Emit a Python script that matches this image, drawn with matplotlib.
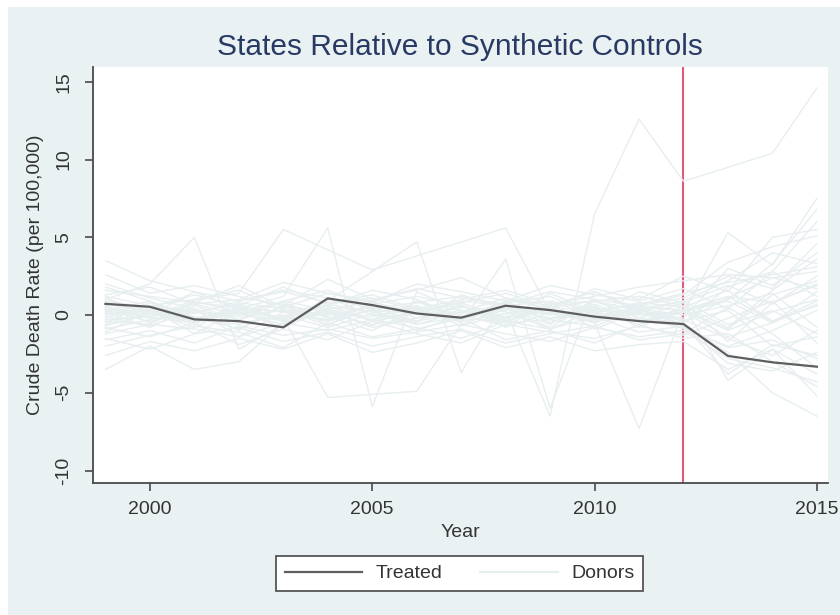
import matplotlib
matplotlib.use("Agg")
import matplotlib.pyplot as plt
from matplotlib.patches import Rectangle
from matplotlib.lines import Line2D

plt.rcParams['font.family'] = ['Liberation Sans', 'DejaVu Sans']

years = list(range(1999, 2016))
treatment_year = 2012

treated = [0.72, 0.53, -0.28, -0.39, -0.79, 1.07, 0.64, 0.10, -0.17, 0.60,
           0.32, -0.10, -0.39, -0.58, -2.63, -3.04, -3.32]

# Donor states: gap between each donor and its synthetic control
d01 = [0.4, 0.1, -0.3, 0.5, 0.2, -0.4, 0.3, 0.1, -0.2, 0.3, -6.5, 6.5, 12.6, 8.6, 9.5, 10.4, 14.6]
d02 = [1.0, 2.0, 5.0, -2.2, -0.6, 0.4, 0.8, 0.2, -0.3, 0.5, 0.1, -0.4, 0.6, 0.3, 1.2, 0.8, 1.9]
d03 = [3.5, 2.2, 1.5, 0.9, 1.6, 1.1, 0.4, 0.8, 1.2, 0.6, 0.9, 0.3, 0.7, 1.4, 2.1, 2.6, 3.1]
d04 = [0.2, 0.6, 1.0, 1.4, 5.5, 4.2, 2.9, 3.8, 4.7, 5.6, 0.2, -0.5, 0.4, 0.9, -0.6, 0.3, -1.2]
d05 = [-3.5, -2.0, -3.5, -3.0, -0.5, 0.3, -0.8, -0.2, 0.6, -0.4, 0.5, 0.2, -0.3, -0.8, -2.1, -1.6, -2.8]
d06 = [1.8, 0.9, -0.5, 0.4, 1.2, 5.6, -5.9, 1.5, 0.3, -0.5, 0.8, 0.1, -0.6, 0.2, -1.4, -0.5, 0.7]
d07 = [0.3, -0.4, 0.2, 0.7, -0.3, 0.9, 2.8, 4.7, -3.7, 1.0, 0.4, -0.2, 0.6, -0.4, 1.1, 2.4, 1.7]
d08 = [-0.6, 0.4, -1.2, 0.3, -0.2, -5.3, -5.1, -4.9, -0.6, 0.4, -0.2, 0.7, -0.4, 0.2, -0.9, 1.3, 2.2]
d09 = [0.2, -0.8, 0.6, -0.3, 0.5, -0.1, -1.0, 0.4, -0.5, 3.6, -6.0, 1.5, 0.4, -0.6, -3.8, -1.9, -2.6]
d10 = [-0.9, -0.3, 0.4, -1.4, 0.2, 0.6, -0.4, 0.1, 0.8, -0.2, 0.5, -0.5, -7.3, 0.3, 1.2, -0.4, 0.9]
d11 = [0.5, 0.1, -0.4, 0.3, 0.8, -0.2, 0.3, -0.6, 0.2, 0.6, -0.3, 0.4, 0.1, 0.2, 5.3, 3.2, 7.5]
d12 = [-0.2, 0.6, 0.3, -0.5, -0.1, 0.7, 0.2, 0.5, -0.7, 0.1, 0.4, -0.2, 0.5, 0.3, 1.0, 3.3, 6.8]
d13 = [0.6, -0.5, 0.9, 0.2, -0.8, 0.4, -0.3, 0.8, 0.3, -0.4, 0.7, 0.9, -0.2, -0.5, 1.8, 2.8, 6.0]
d14 = [-1.1, 0.3, -0.6, 0.8, 0.4, -0.7, 0.9, -0.2, 0.5, 0.2, -0.9, 0.3, 0.6, 1.1, 2.5, 1.7, 4.6]
d15 = [0.3, 0.9, -0.2, 0.1, -0.6, 0.5, 0.2, -0.4, 0.7, -0.8, 0.2, -0.3, 0.4, -0.7, -2.4, -5.0, -6.5]
d16 = [-0.4, -0.6, 0.8, 0.5, 0.2, -0.3, 0.6, 0.3, -0.2, 0.9, -0.5, 0.6, -0.8, 0.6, -4.2, -2.2, -3.8]
d17 = [1.2, 0.6, 0.1, 0.9, 1.5, 0.8, 1.3, 0.4, 1.0, 1.6, 0.7, 1.2, 1.8, 2.2, 2.6, 2.4, 2.8]
d18 = [-1.6, -1.0, -1.8, -0.7, -1.3, -0.9, -1.5, -1.1, -0.6, -1.2, -1.7, -0.8, -1.4, -1.0, -2.8, -3.4, -4.3]
d19 = [1.6, 1.2, 0.8, 1.9, 0.5, 1.4, 0.9, 1.7, 1.1, 0.7, 1.5, 1.0, 0.6, 1.3, 3.4, 4.4, 5.1]
d20 = [-0.8, -1.4, -0.5, -1.9, -0.9, -1.6, -0.4, -1.2, -1.8, -0.6, -1.1, -1.5, -0.7, -1.3, -0.2, 0.9, -1.8]
d21 = [0.1, 0.4, 0.2, -0.1, 0.3, 0.0, 0.5, 0.2, 0.1, 0.4, -0.2, 0.3, 0.0, 0.2, 0.9, -0.5, 1.5]
d22 = [-0.3, -0.1, -0.5, 0.2, -0.4, 0.1, -0.6, -0.2, 0.3, -0.1, 0.2, -0.4, 0.1, -0.3, -1.5, -2.6, -1.0]
d23 = [0.9, 0.5, 1.3, 0.6, 1.8, 0.7, 1.1, 0.3, 0.8, 1.4, 0.5, 0.9, 1.2, 0.6, -0.8, 1.6, 3.6]
d24 = [-1.2, -0.6, -0.9, -1.4, -0.5, -1.0, -0.3, -0.8, -1.5, -0.4, -0.9, -0.1, -1.1, -0.7, -3.1, -3.6, -2.4]
d25 = [2.0, 1.1, 0.4, -0.3, 0.9, 1.6, 0.5, -0.4, 0.2, 1.1, 0.6, 1.5, 0.2, 0.9, 2.2, 4.0, 3.3]
d26 = [-2.0, -1.3, -0.7, -1.1, -2.1, -0.5, -1.4, -0.9, -0.2, -1.6, -1.0, -1.8, -0.6, -1.5, -1.2, -3.0, -4.6]
d27 = [0.5, -0.2, 1.0, 1.6, 0.3, -0.4, 0.7, 1.2, 0.6, -0.3, 1.4, 0.2, 0.8, 0.5, 1.6, -0.4, 0.6]
d28 = [-0.5, 0.8, -0.1, -0.9, 0.6, 0.2, -0.7, 0.9, -0.3, 0.5, -0.6, 1.0, -0.2, 0.8, -1.7, 0.8, 2.0]
d29 = [1.3, 1.8, 0.7, 1.0, 2.1, 1.4, 0.8, 2.0, 1.5, 0.9, 1.9, 1.3, 0.9, 1.7, 0.4, 2.8, 1.2]
d30 = [-1.5, -2.2, -1.2, -0.8, -1.7, -1.1, -2.0, -1.4, -0.9, -1.8, -1.2, -0.7, -1.6, -1.2, 0.5, -1.2, -3.4]
d31 = [0.7, 0.2, -0.8, 0.6, -0.4, 1.1, 0.0, -0.5, 1.3, 0.4, -0.8, 0.9, 0.3, -0.2, 3.0, 1.9, 4.0]
d32 = [-0.1, -0.7, 0.3, -1.0, 0.7, -0.6, 0.4, -1.0, 0.0, -0.7, 0.8, -0.9, 0.2, -0.9, -2.0, -1.0, 0.3]
d33 = [2.6, 1.4, 1.9, 1.2, 0.6, 2.3, 1.0, 1.6, 2.4, 1.1, 0.4, 1.7, 1.0, 2.5, 1.5, 5.0, 5.5]
d34 = [-2.6, -1.7, -2.3, -1.5, -2.2, -1.2, -2.4, -1.8, -1.0, -2.1, -1.4, -2.3, -1.9, -1.7, -3.5, -2.2, -5.2]
d35 = [0.0, 0.3, -0.2, 0.4, -0.3, 0.2, -0.1, 0.6, -0.4, 0.1, 0.3, -0.1, 0.4, 0.0, 0.6, 1.4, -0.8]
d36 = [0.4, -0.1, 0.7, 0.0, 0.9, 0.3, -0.3, 0.2, 0.9, 0.6, 0.0, 0.5, -0.4, 0.4, -1.0, 0.2, 1.0]
d37 = [-0.7, 0.1, -0.3, -0.6, 0.0, -0.8, 0.1, -0.6, -0.1, -0.5, -0.3, -0.7, 0.3, -0.4, 0.3, -2.0, -1.4]
d38 = [1.1, 0.0, 1.5, 0.4, -0.2, 0.6, 1.6, 1.0, -0.1, 0.8, 1.2, 0.0, 1.5, 0.8, 1.9, 0.7, 2.5]

donors = [d01, d02, d03, d04, d05, d06, d07, d08, d09, d10, d11, d12, d13,
          d14, d15, d16, d17, d18, d19, d20, d21, d22, d23, d24, d25, d26,
          d27, d28, d29, d30, d31, d32, d33, d34, d35, d36, d37, d38]

x_ticks = [2000, 2005, 2010, 2015]
y_ticks = [-10, -5, 0, 5, 10, 15]

bg = '#eaf1f3'
donor_color = '#e7eef0'
treated_color = '#5e5e5e'
axis_color = '#4a4a4a'
text_color = '#333333'

fig = plt.figure(figsize=(8.4, 6.15), dpi=100, facecolor='white')
# graph region (leaves a thin white margin at top and left)
fig.patches.append(Rectangle((8 / 840, 0), 1 - 8 / 840, 1 - 7 / 615,
                             transform=fig.transFigure, facecolor=bg,
                             edgecolor='none', zorder=-10))

ax = fig.add_axes([93 / 840, 1 - 483 / 615, (828 - 93) / 840, (483 - 67) / 615])
ax.set_facecolor('white')

ax.axvline(treatment_year, color='#e05a7a', lw=1.5, zorder=1)
for d in donors:
    ax.plot(years, d, color=donor_color, lw=1.0, zorder=2)
ax.plot(years, treated, color=treated_color, lw=1.6, zorder=3)

ax.set_xlim(1998.72, 2015.25)
ax.set_ylim(-10.8, 15.95)
ax.set_xticks(x_ticks)
ax.set_yticks(y_ticks)
ax.set_xticklabels([str(v) for v in x_ticks], fontsize=14, color=text_color)
ax.set_yticklabels([str(v) for v in y_ticks], fontsize=14, color=text_color,
                   rotation=90, va='center')

for s in ['top', 'right']:
    ax.spines[s].set_visible(False)
for s in ['left', 'bottom']:
    ax.spines[s].set_color(axis_color)
    ax.spines[s].set_linewidth(1.3)
ax.tick_params(axis='both', direction='out', length=6, width=1.2, color=axis_color)
ax.tick_params(axis='x', pad=7)
ax.tick_params(axis='y', pad=9)

ax.set_xlabel('Year', fontsize=14, color=text_color, labelpad=4)
ax.set_ylabel('Crude Death Rate (per 100,000)', fontsize=14, color=text_color, labelpad=8)

fig.text(460 / 840, 1 - 47 / 615, 'States Relative to Synthetic Controls',
         fontsize=21.5, color='#283a64', ha='center', va='center')

handles = [Line2D([], [], color=treated_color, lw=1.6),
           Line2D([], [], color=donor_color, lw=1.6)]
leg = fig.legend(handles, ['Treated', 'Donors'], loc='center',
                 bbox_to_anchor=(459.5 / 840, 1 - 573.5 / 615), ncol=2,
                 fontsize=14, handlelength=4.0, handletextpad=0.7,
                 columnspacing=1.9, borderpad=0.45, fancybox=False,
                 frameon=True, framealpha=1)
leg.get_frame().set_edgecolor('#555555')
leg.get_frame().set_linewidth(1.3)
for t in leg.get_texts():
    t.set_color(text_color)

fig.savefig('out.png', dpi=100, facecolor=fig.get_facecolor())
